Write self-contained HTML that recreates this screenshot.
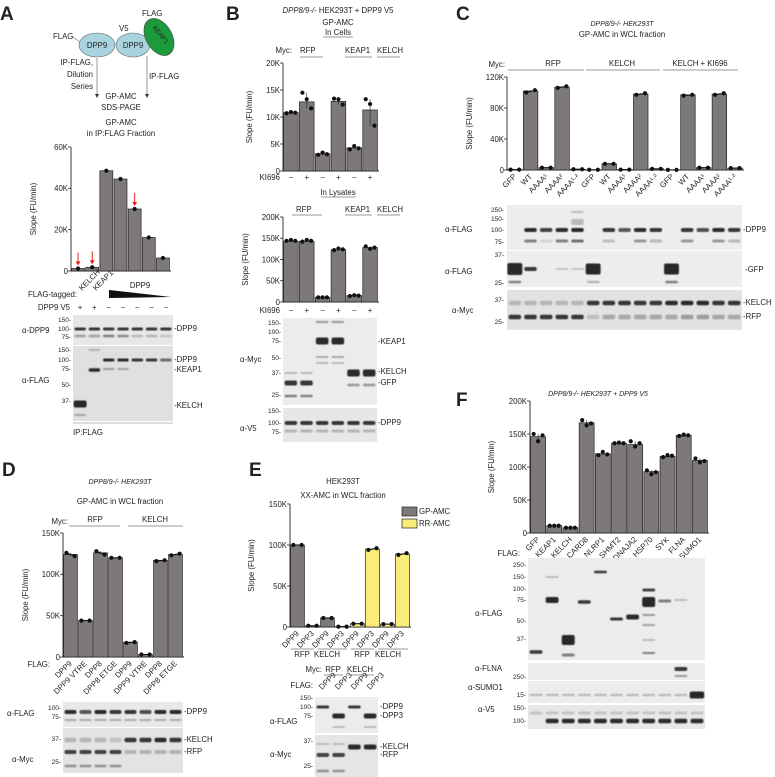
<!DOCTYPE html>
<html><head><meta charset="utf-8">
<style>
html,body{margin:0;padding:0;background:#fff;}
svg{display:block;font-family:"Liberation Sans",Arial,sans-serif;}
text{fill:#222;}
</style></head>
<body>
<svg id="fig" xmlns="http://www.w3.org/2000/svg" width="775" height="777" viewBox="0 0 775 777">
<defs><filter id="soft" x="-20%" y="-50%" width="140%" height="200%"><feGaussianBlur stdDeviation="0.6"/></filter></defs>
<g font-weight="bold" font-size="19">
<text x="0" y="20">A</text>
<text x="226" y="20">B</text>
<text x="456" y="20">C</text>
<text x="2" y="476">D</text>
<text x="249" y="476">E</text>
<text x="456" y="406">F</text>
</g>
<g font-size="7.8">
<text x="53" y="39">FLAG</text>
<line x1="73" y1="37" x2="80" y2="42" stroke="#777" stroke-width="0.6"/>
<ellipse cx="97" cy="45" rx="18" ry="12" fill="#a9d4df" stroke="#666" stroke-width="0.6"/>
<text x="97" y="48" text-anchor="middle">DPP9</text>
<text x="119" y="31">V5</text>
<ellipse cx="133" cy="45" rx="17" ry="12" fill="#a9d4df" stroke="#666" stroke-width="0.6"/>
<text x="133" y="48" text-anchor="middle">DPP9</text>
<text x="142" y="16">FLAG</text>
<ellipse cx="159" cy="37" rx="13" ry="20" transform="rotate(-30 159 37)" fill="#1c9a3c" stroke="#444" stroke-width="0.6"/>
<text x="159" y="36" text-anchor="middle" font-size="6.5" transform="rotate(50 159 36)">KEAP1</text>
<line x1="97" y1="58" x2="97" y2="96" stroke="#555" stroke-width="0.6"/>
<polygon points="95,94 99,94 97,98" fill="#333"/>
<line x1="147" y1="56" x2="147" y2="96" stroke="#555" stroke-width="0.6"/>
<polygon points="145,94 149,94 147,98" fill="#333"/>
<text x="93" y="65" text-anchor="end">IP-FLAG,</text>
<text x="93" y="77" text-anchor="end">Dilution</text>
<text x="93" y="89" text-anchor="end">Series</text>
<text x="149" y="79">IP-FLAG</text>
<text x="121" y="99" text-anchor="middle">GP-AMC</text>
<text x="121" y="110" text-anchor="middle">SDS-PAGE</text>
<text x="121" y="125" text-anchor="middle">GP-AMC</text>
<text x="121" y="136" text-anchor="middle">in IP:FLAG Fraction</text>
</g>
<g id="charts"></g>
<g id="blots"></g>
<g id="annot" font-size="7.8"></g>
</svg>
<script>
var aCategories = ["KELCH","KEAP1","DPP9-1","DPP9-2","DPP9-3","DPP9-4","DPP9-5"];
var aValues = [1.2, 1.8, 48.5, 44.5, 30, 16.2, 6.3];
var aTicks = [0, 20, 40, 60];
var aTickLabels = ["0","20K","40K","60K"];

var b1Values = [10.8, 12.8, 3.2, 12.9, 4.3, 11.3];
var b1Reps = [[10.7,10.9,10.8],[14.5,13.3,11.6],[3.0,3.4,3.1],[13.4,13.3,12.3],[4.0,4.6,4.2],[13.3,12.4,8.4]];
var b1Ticks = [0,5,10,15,20];
var b1TickLabels = ["0","5K","10K","15K","20K"];
var b2Values = [143, 143, 11, 123, 15, 128];
var b2Reps = [[144,146,144],[142,146,144],[11,11,11],[122,126,124],[14,16,15],[131,125,128]];
var b2Ticks = [0,50,100,150,200];
var b2TickLabels = ["0","50K","100K","150K","200K"];
var bKI = ["−","+","−","+","−","+"];

var cCategories = ["GFP","WT","AAAA¹","AAAA²","AAAA¹·²","GFP","WT","AAAA¹","AAAA²","AAAA¹·²","GFP","WT","AAAA¹","AAAA²","AAAA¹·²"];
var cValues = [0.5, 102, 3, 107, 1, 0.3, 8, 0.5, 98, 1.5, 0.2, 97, 3, 98, 2.5];
var cReps = [[0.5,0.5],[100,103],[3,3],[106,108],[1,1],[0.3,0.3],[8,8],[0.5,0.5],[97,99],[1.5,1.5],[0.2,0.2],[96,97],[3,3],[97,99],[2.5,2.5]];
var cTicks = [0,40,80,120];
var cTickLabels = ["0","40K","80K","120K"];

var dCategories = ["DPP9","DPP9 VTRE","DPP8","DPP8 ETGE","DPP9","DPP9 VTRE","DPP8","DPP8 ETGE"];
var dValues = [124, 44, 126, 120, 18, 3, 117, 124];
var dReps = [[126,122],[44,44],[128,124],[120,120],[17,18],[3,3],[116,117],[123,125]];
var dTicks = [0,50,100,150];
var dTickLabels = ["0","50K","100K","150K"];

var eCategories = ["DPP9","DPP3","DPP9","DPP3","DPP9","DPP3","DPP9","DPP3"];
var eSubstrate = ["GP","GP","GP","GP","RR","RR","RR","RR"];
var eValues = [100, 1.5, 11, 0.5, 4, 95, 3.5, 89];
var eReps = [[100,100],[1.5,1.5],[11,11],[0.5,0.5],[4,4],[94,96],[3.5,3.5],[88,90]];
var eTicks = [0,50,100,150];
var eTickLabels = ["0","50K","100K","150K"];

var fCategories = ["GFP","KEAP1","KELCH","CARD8","NLRP1","SHMT2","DNAJA2","HSP70","SYK","FLNA","SUMO1"];
var fValues = [146, 11, 8, 167, 120, 136, 134, 93, 116, 148, 110];
var fReps = [[150,139,148],[11,11,11],[8,8,8],[171,163,166],[118,123,119],[136,137,136],[139,131,136],[95,89,92],[115,118,117],[147,149,148],[113,107,109]];
var fTicks = [0,50,100,150,200];
var fTickLabels = ["0","50K","100K","150K","200K"];

var NS = "http://www.w3.org/2000/svg";
function mk(tag, attrs, parent){ var e=document.createElementNS(NS,tag); for(var k in attrs) e.setAttribute(k,attrs[k]); (parent||document.getElementById('charts')).appendChild(e); return e; }
function txt(x,y,s,attrs,parent){ var t=mk('text',Object.assign({x:x,y:y,'font-size':7.8},attrs||{}),parent||document.getElementById('annot')); t.textContent=s; return t; }

function chart(o){
  var g=mk('g',{});
  
  
  var n=o.values.length, bw=(o.x1-o.x0)/n;
  function yS(v){ return o.yBot-(v/o.max)*(o.yBot-o.yTop); }
  function xS(i){ return o.x0+bw*i; }
  var ax=mk('line',{x1:o.x0,y1:o.yTop,x2:o.x0,y2:o.yBot,stroke:'#222','stroke-width':0.9},g);
  
  
  var bx=mk('line',{x1:o.x0,y1:o.yBot,x2:o.x1+1,y2:o.yBot,stroke:'#222','stroke-width':0.9},g);
  
  
  for(var t=0;t<o.ticks.length;t++){
    var yy=yS(o.ticks[t]);
    mk('line',{x1:o.x0-3,y1:yy,x2:o.x0,y2:yy,stroke:'#222','stroke-width':0.8},g);
    var tl=txt(o.x0-3,yy+2.8,o.tickLabels[t],{'text-anchor':'end'},g);
    
    
  }
  for(var i=0;i<n;i++){
    var v=o.values[i], top=yS(v);
    var col=o.colors?o.colors[i]:'#7d7979';
    var r=mk('rect',{x:xS(i)+0.6,y:top,width:bw-1.2,height:Math.max(o.yBot-top,0.3),fill:col,stroke:'#222','stroke-width':0.7},g);
    
    
    var reps=o.reps?o.reps[i]:[v];
    var cx=xS(i)+bw/2;
    if(reps.length>1){
      var lo=Math.min.apply(null,reps),hi=Math.max.apply(null,reps);
      mk('line',{x1:cx,y1:yS(hi),x2:cx,y2:yS(lo),stroke:'#222','stroke-width':0.6},g);
    }
    for(var k=0;k<reps.length;k++){
      var dx=reps.length==1?0:(k/(reps.length-1)-0.5)*bw*0.55;
      var d=mk('circle',{cx:cx+dx,cy:yS(reps[k]),r:2.1,fill:'#111'},g);
      
      
    }
    if(reps.length==2){ mk('line',{x1:cx-bw*0.27,y1:yS(reps[0]),x2:cx+bw*0.27,y2:yS(reps[1]),stroke:'#111','stroke-width':1},g); }
    if(o.cats){
      var lbl=txt(cx+2,o.yBot+7,o.cats[i],{'text-anchor':'end',transform:'rotate(-45 '+(cx+2)+' '+(o.yBot+7)+')'},g);
      
      
    }
  }
  var yt=txt(o.ytX,(o.yTop+o.yBot)/2,'Slope (FU/min)',{'text-anchor':'middle',transform:'rotate(-90 '+o.ytX+' '+((o.yTop+o.yBot)/2)+')'},g);
  
  
  return {xS:xS,yS:yS,bw:bw};
}

var A=chart({name:'panel-a-chart',x0:71,x1:170,yTop:147,yBot:271,max:60,ticks:aTicks,tickLabels:aTickLabels,values:aValues,ytX:36});
var B1=chart({name:'panel-b-cells-chart',x0:283,x1:378,yTop:63,yBot:171,max:20,ticks:b1Ticks,tickLabels:b1TickLabels,values:b1Values,reps:b1Reps,ytX:252});
var B2=chart({name:'panel-b-lysates-chart',x0:283,x1:378,yTop:217,yBot:302,max:200,ticks:b2Ticks,tickLabels:b2TickLabels,values:b2Values,reps:b2Reps,ytX:248});
var C=chart({name:'panel-c-chart',x0:507,x1:743,yTop:77,yBot:170,max:120,ticks:cTicks,tickLabels:cTickLabels,values:cValues,reps:cReps,cats:cCategories,ytX:472});
var D=chart({name:'panel-d-chart',x0:63,x1:183,yTop:533,yBot:657,max:150,ticks:dTicks,tickLabels:dTickLabels,values:dValues,reps:dReps,cats:dCategories,ytX:28});
var eColors=eSubstrate.map(function(s){return s=='GP'?'#7d7979':'#f8ec7a';});
var E=chart({name:'panel-e-chart',x0:290,x1:410,yTop:504,yBot:627,max:150,ticks:eTicks,tickLabels:eTickLabels,values:eValues,reps:eReps,cats:eCategories,colors:eColors,ytX:254});
var F=chart({name:'panel-f-chart',x0:530,x1:708,yTop:401,yBot:533,max:200,ticks:fTicks,tickLabels:fTickLabels,values:fValues,reps:fReps,cats:fCategories,ytX:494});

[0,1,4].forEach(function(i){
  var cx=A.xS(i)+A.bw/2, top=A.yS(aValues[i]);
  var ar=mk('g',{});
  
  
  mk('line',{x1:cx,y1:top-16,x2:cx,y2:top-5,stroke:'#e0231c','stroke-width':1},ar);
  mk('polygon',{points:(cx-2.5)+','+(top-7)+' '+(cx+2.5)+','+(top-7)+' '+cx+','+(top-3),fill:'#e0231c'},ar);
});
bKI.forEach(function(s,i){
  txt(B1.xS(i)+B1.bw/2,180,s,{'text-anchor':'middle'});
  txt(B2.xS(i)+B2.bw/2,313,s,{'text-anchor':'middle'});
});
txt(280,180,'KI696',{'text-anchor':'end'});
txt(280,313,'KI696',{'text-anchor':'end'});

function blot(name,x,y,w,h,nl,bands,bg){
  var g=mk('g',{},document.getElementById('blots'));
  
  
  mk('rect',{x:x,y:y,width:w,height:h,fill:bg||'#e7e7e7'},g);
  var bg2=mk('g',{filter:'url(#soft)'},g);
  var lw=w/nl;
  bands.forEach(function(b){
    var wf=b[4]||0.8, bwid=lw*wf;
    mk('rect',{x:x+lw*b[0]+(lw-bwid)/2,y:b[1]-b[2]/2,width:bwid,height:b[2],rx:Math.min(2,b[2]/2),fill:'#1a1a1a','fill-opacity':b[3]},bg2);
  });
}
function lanes(n,yc,th,op,wf,skip){ var r=[]; for(var i=0;i<n;i++){ if(skip&&skip.indexOf(i)>=0) continue; var o=Array.isArray(op)?op[i]:op; r.push([i,yc,th,o,wf]); } return r; }

blot('panel-a-dpp9-blot',73,315,100,30,7,lanes(7,329,3,0.85).concat(lanes(7,336,2.5,[0.35,0.35,0.5,0.45,0.2,0.25,0.15])));
blot('panel-a-flag-blot',73,346,100,75,7,[[0,404,7,0.95,0.9],[0,415,2,0.3],[1,370,3.5,0.9],[1,350,1.5,0.3]].concat(lanes(7,360,3,[0,0,0.9,0.9,0.85,0.85,0.6])).concat([[2,369,2,0.35],[3,369,2,0.3]]),'#e0e0e0');
mk('line',{x1:73,y1:423,x2:173,y2:423,stroke:'#bbb','stroke-width':1},document.getElementById('blots'));

blot('panel-b-myc-blot',283,318,94,87,6,[[0,383,5,0.85],[1,383,5,0.85],[0,396,2.5,0.5],[1,396,2.5,0.5],[0,373,1.5,0.3],[1,373,1.5,0.3],[2,341,7,0.9],[3,341,7,0.9],[2,322,2,0.4],[3,322,2,0.4],[2,357,1.5,0.4],[3,357,1.5,0.4],[2,363,1.5,0.3],[3,363,1.5,0.3],[4,373,7,0.9],[5,373,7,0.9],[4,385,2.5,0.4],[5,385,2.5,0.4]],'#ececec');
blot('panel-b-v5-blot',283,408,94,34,6,lanes(6,423,4,0.85).concat(lanes(6,431,3,0.25)));

blot('panel-c-flag-dpp9-blot',507,205,235,45,15,lanes(15,230,4,[0,0.9,0.8,0.9,0.95,0,0.85,0.7,0.9,0.85,0,0.85,0.75,0.9,0.85]).concat(lanes(15,241,3,[0,0.5,0.1,0.5,0.6,0,0.2,0,0.4,0.25,0,0.4,0,0.4,0.25])).concat([[4,222,6,0.25],[4,212,2,0.2]]),'#ededed');
blot('panel-c-flag-gfp-blot',507,251,235,36,15,[[0,269,12,0.95,0.95],[1,269,4,0.85],[5,269,11,0.95,0.95],[10,269,11,0.95,0.95],[0,282,2.5,0.5],[5,282,2,0.3],[10,282,2.5,0.5],[3,269,1.5,0.25],[4,269,1.5,0.25]],'#ededed');
blot('panel-c-myc-blot',507,290,235,40,15,lanes(15,317,4.5,[0.85,0.85,0.85,0.85,0.85,0.15,0.3,0.3,0.3,0.3,0.3,0.35,0.35,0.3,0.3]).concat(lanes(15,303,4.5,[0.2,0.2,0.2,0.2,0.2,0.85,0.85,0.85,0.85,0.85,0.9,0.9,0.9,0.85,0.85])),'#e2e2e2');

blot('panel-d-flag-blot',63,702,120,25,8,lanes(8,712,4,[0.9,0.7,0.95,0.85,0.85,0.75,0.9,0.9]).concat(lanes(8,720,2,0.3)),'#e8e8e8');
blot('panel-d-myc-blot',63,728,120,45,8,lanes(8,752,4,[0.8,0.8,0.8,0.8,0.25,0.25,0.25,0.25]).concat(lanes(8,740,4.5,[0.2,0.2,0.2,0.15,0.85,0.85,0.9,0.85])).concat(lanes(8,766,2.5,[0.4,0.4,0.4,0.4,0,0,0,0])),'#e3e3e3');

blot('panel-e-flag-blot',315,697,63,36,4,[[0,707,3,0.85],[1,716,5,0.9],[2,707,3,0.85],[3,716,5,0.9],[1,727,1.5,0.3],[3,727,1.5,0.3]],'#ececec');
blot('panel-e-myc-blot',315,735,63,43,4,[[0,755,4,0.8],[1,755,4,0.8],[2,747,5,0.9],[3,747,5,0.9],[0,771,2.5,0.4],[1,771,2.5,0.4],[0,744,1.5,0.25],[1,744,1.5,0.25]],'#e5e5e5');

blot('panel-f-flag-blot',528,558,177,102,11,[[0,652,3.5,0.85],[1,600,6,0.95],[1,577,1.5,0.3],[2,640,10,0.95],[2,655,3,0.5],[3,602,3.5,0.85],[4,572,2.5,0.85],[5,619,3,0.85],[6,617,5,0.9],[7,602,10,0.95],[7,590,3,0.8],[7,615,2,0.4],[7,625,2,0.35],[7,640,1.5,0.3],[7,653,2,0.5],[8,601,3,0.5],[9,600,1.5,0.3]],'#ececec');
blot('panel-f-flna-blot',528,663,177,17,11,[[9,669,4,0.85],[9,676,2,0.4]],'#ececec');
blot('panel-f-sumo1-blot',528,681,177,22,11,lanes(11,695,2.5,0.2).concat([[10,695,7,0.95,0.9]]),'#ececec');
blot('panel-f-v5-blot',528,705,177,24,11,lanes(11,721,4.5,0.9,0.8,[0]).concat(lanes(11,713,3,0.15)),'#e8e8e8');

function T(x,y,s,anchor,extra){ return txt(x,y,s,Object.assign({'text-anchor':anchor||'start'},extra||{})); }
function UL(x1,x2,y){ mk('line',{x1:x1,y1:y,x2:x2,y2:y,stroke:'#777','stroke-width':0.8},document.getElementById('annot')); }
var sm={'font-size':6.5};
T(77,297,'FLAG-tagged:','end');
T(82,291,'KELCH','start',{transform:'rotate(-45 82 291)'});
T(96,291,'KEAP1','start',{transform:'rotate(-45 96 291)'});
mk('polygon',{points:'109,290 171,297 109,298',fill:'#111'},document.getElementById('annot'));
T(140,288,'DPP9','middle');
T(70,310,'DPP9 V5','end');
['+','+','−','−','−','−','−'].forEach(function(s,i){ T(80+i*14.3,310,s,'middle'); });
T(71,322,'150-','end',sm);T(71,331,'100-','end',sm);T(71,339,'75-','end',sm);
T(71,352,'150-','end',sm);T(71,362,'100-','end',sm);T(71,371,'75-','end',sm);T(71,387,'50-','end',sm);T(71,403,'37-','end',sm);
T(22,333,'α-DPP9');T(22,383,'α-FLAG');
T(174,331,'-DPP9');T(174,362,'-DPP9');T(174,372,'-KEAP1');T(174,408,'-KELCH');
T(73,435,'IP:FLAG');
// B
var bt=T(338,13,'','middle');
var s1=document.createElementNS(NS,'tspan'); s1.setAttribute('font-style','italic'); s1.textContent='DPP8/9-/- '; bt.appendChild(s1);
var s2=document.createElementNS(NS,'tspan'); s2.textContent='HEK293T + DPP9 V5'; bt.appendChild(s2);
T(338,25,'GP-AMC','middle');T(338,35,'In Cells','middle');UL(323,353,37);
T(292,53,'Myc:','end');T(300,53,'RFP');T(345,53,'KEAP1');T(377,53,'KELCH');
UL(300,323,57);UL(345,372,57);UL(377,400,57);
T(338,195,'In Lysates','middle');UL(321,356,197);
T(296,212,'RFP');T(345,212,'KEAP1');T(377,212,'KELCH');UL(292,322,215);UL(345,372,215);UL(377,400,215);
T(281,325,'150-','end',sm);T(281,334,'100-','end',sm);T(281,343,'75-','end',sm);T(281,360,'50-','end',sm);T(281,375,'37-','end',sm);T(281,397,'25-','end',sm);
T(281,413,'150-','end',sm);T(281,425,'100-','end',sm);T(281,434,'75-','end',sm);
T(240,362,'α-Myc');T(240,431,'α-V5');
T(378,344,'-KEAP1');T(378,374,'-KELCH');T(378,385,'-GFP');T(378,425,'-DPP9');
// C
T(622,26,'DPP8/9-/- HEK293T','middle',{'font-style':'italic','font-size':7});
T(622,37,'GP-AMC in WCL fraction','middle');
T(505,67,'Myc:','end');T(553,66,'RFP','middle');T(622,66,'KELCH','middle');T(700,66,'KELCH + KI696','middle');
UL(508,584,70);UL(586,660,70);UL(663,738,70);
T(504,212,'250-','end',sm);T(504,221,'150-','end',sm);T(504,232,'100-','end',sm);T(504,244,'75-','end',sm);
T(504,257,'37-','end',sm);T(504,285,'25-','end',sm);
T(504,302,'37-','end',sm);T(504,324,'25-','end',sm);
T(445,232,'α-FLAG');T(445,274,'α-FLAG');T(452,313,'α-Myc');
T(743,232,'-DPP9');T(745,272,'-GFP');T(743,305,'-KELCH');T(743,319,'-RFP');
// D
T(120,484,'DPP8/9-/- HEK293T','middle',{'font-style':'italic','font-size':7});
T(120,504,'GP-AMC in WCL fraction','middle');
T(68,524,'Myc:','end');T(95,522,'RFP','middle');T(155,522,'KELCH','middle');UL(69,120,526);UL(128,183,526);
T(50,667,'FLAG:','end');
T(61,710,'100-','end',sm);T(61,719,'75-','end',sm);T(61,741,'37-','end',sm);T(61,764,'25-','end',sm);
T(7,716,'α-FLAG');T(12,762,'α-Myc');
T(184,714,'-DPP9');T(184,742,'-KELCH');T(184,754,'-RFP');
// E
T(343,484,'HEK293T','middle');T(343,498,'XX-AMC in WCL fraction','middle');
var lg=mk('g',{},document.getElementById('annot'));


mk('rect',{x:402,y:507,width:15,height:9,fill:'#7d7979',stroke:'#222','stroke-width':0.7},lg);
mk('rect',{x:402,y:519,width:15,height:9,fill:'#f8ec7a',stroke:'#222','stroke-width':0.7},lg);
txt(419,514,'GP-AMC',{},lg);txt(419,526,'RR-AMC',{},lg);
T(302,657,'RFP','middle');T(327,657,'KELCH','middle');T(362,657,'RFP','middle');T(388,657,'KELCH','middle');
UL(291,314,649);UL(318,347,649);UL(351,374,649);UL(378,408,649);
T(322,672,'Myc:','end');T(333,672,'RFP','middle');T(360,672,'KELCH','middle');UL(324,343,675);UL(350,374,675);
T(313,688,'FLAG:','end');
['DPP9','DPP3','DPP9','DPP3'].forEach(function(s,i){ var x=322+i*16; T(x,690,s,'start',{transform:'rotate(-45 '+x+' 690)'}); });
T(313,700,'150-','end',sm);T(313,709,'100-','end',sm);T(313,718,'75-','end',sm);
T(313,743,'37-','end',sm);T(313,768,'25-','end',sm);
T(270,724,'α-FLAG');T(270,757,'α-Myc');
T(380,709,'-DPP9');T(380,718,'-DPP3');T(380,749,'-KELCH');T(380,757,'-RFP');
// F
T(598,396,'DPP8/9-/- HEK293T + DPP9 V5','middle',{'font-style':'italic','font-size':7});
T(520,556,'FLAG:','end');
T(526,567,'250-','end',sm);T(526,579,'150-','end',sm);T(526,591,'100-','end',sm);T(526,602,'75-','end',sm);T(526,623,'50-','end',sm);T(526,641,'37-','end',sm);
T(526,679,'250-','end',sm);T(526,697,'15-','end',sm);T(526,710,'150-','end',sm);T(526,723,'100-','end',sm);
T(475,616,'α-FLAG');T(475,671,'α-FLNA');T(468,690,'α-SUMO1');T(478,712,'α-V5');
</script>
</body></html>
